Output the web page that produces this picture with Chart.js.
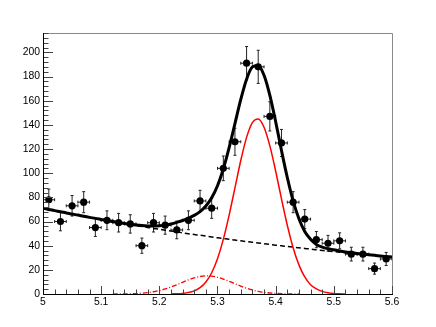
<!DOCTYPE html>
<html>
<head>
<meta charset="utf-8">
<script src="https://cdn.jsdelivr.net/npm/chart.js@4/dist/chart.umd.min.js"></script>
<style>
html,body{margin:0;padding:0;background:#fff;}
canvas{display:block;}
</style>
</head>
<body>
<canvas id="c" width="436" height="327"></canvas>
<script>
// ---- data ----
const binCenters = [5.01,5.03,5.05,5.07,5.09,5.11,5.13,5.15,5.17,5.19,5.21,5.23,5.25,5.27,5.29,5.31,5.33,5.35,5.37,5.39,5.41,5.43,5.45,5.47,5.49,5.51,5.53,5.55,5.57,5.59];
const counts = [78,60,73,76,55,61,59,58,40,59,57,53,61,77,71,104,126,191,188,147,125,76,62,45,42,44,33,33,21,29];
const countErrors = [8.8,7.7,8.5,8.7,7.4,7.8,7.7,7.6,6.3,7.7,7.5,7.3,7.8,8.8,8.4,10.2,11.2,13.8,13.7,12.1,11.2,8.7,7.9,6.7,6.5,6.6,5.7,5.7,4.6,5.4];
const binHalfWidth = 0.01;

const fitX = [5.00,5.01,5.02,5.03,5.04,5.05,5.06,5.07,5.08,5.09,
              5.10,5.11,5.12,5.13,5.14,5.15,5.16,5.17,5.18,5.19,
              5.20,5.21,5.22,5.23,5.24,5.25,5.26,5.27,5.28,5.29,
              5.30,5.31,5.32,5.33,5.34,5.35,5.36,5.37,5.38,5.39,
              5.40,5.41,5.42,5.43,5.44,5.45,5.46,5.47,5.48,5.49,
              5.50,5.51,5.52,5.53,5.54,5.55,5.56,5.57,5.58,5.59,5.60];
const totalFit = [71.0,70.0,69.0,68.1,67.1,66.2,65.3,64.3,63.4,62.6,
                  61.7,60.8,60.0,59.2,58.4,57.7,57.1,56.6,56.3,56.2,
                  56.4,57.0,58.0,59.3,60.8,62.8,65.1,68.2,72.8,79.6,
                  89.6,103.5,121.1,141.0,161.0,177.8,187.9,189.2,181.0,164.4,
                  142.6,118.8,96.4,77.1,62.3,51.8,45.3,41.0,38.8,37.5,
                  36.6,35.6,34.8,34.2,33.6,33.0,32.5,32.0,31.5,31.0,30.6];
const backgroundFit = [71.0,70.0,69.0,68.1,67.1,66.2,65.3,64.3,63.4,62.6,
                       61.7,60.8,60.0,59.1,58.3,57.5,56.7,55.9,55.1,54.3,
                       53.6,52.8,52.1,51.4,50.6,49.9,49.2,48.6,47.9,47.2,
                       46.5,45.9,45.3,44.6,44.0,43.4,42.8,42.2,41.6,41.0,
                       40.4,39.9,39.3,38.8,38.2,37.7,37.2,36.6,36.1,35.6,
                       35.1,34.6,34.2,33.7,33.2,32.7,32.3,31.8,31.4,30.9,30.5];
const signalFit = [null,null,null,null,null,null,null,null,null,null,
                   null,null,null,null,null,null,null,null,null,null,
                   null,null,0.07,0.2,0.5,1.2,2.6,5.2,9.9,17.6,
                   29.2,45.2,65.3,87.9,110.5,129.6,141.8,144.8,138.0,122.6,
                   101.7,78.7,56.9,38.3,24.1,14.1,7.7,4.2,2.2,1.0,
                   0.4,0.15,0.05,null,null,null,null,null,null,null,null];
const secondPeakFit = [null,null,null,null,null,null,null,null,null,null,
                       null,null,0.02,0.05,0.10,0.20,0.38,0.68,1.15,1.86,
                       2.85,4.17,5.81,7.69,9.70,11.65,13.31,14.48,14.99,14.76,
                       13.85,12.36,10.50,8.49,6.54,4.79,3.34,2.22,1.40,0.84,
                       0.48,0.26,0.14,0.07,0.03,null,null,null,null,null,
                       null,null,null,null,null,null,null,null,null,null,null];
const xTickStep = 0.1, xMinorStep = 0.02;
const yTickStep = 20, yMinorStep = 4;
const xMin = 5.0, xMax = 5.6, yMin = 0, yMax = 216;

const pts = (xs, ys) => xs.map((x, i) => ({x: x, y: ys[i]}));

const FONT = "'Liberation Sans', Arial, Helvetica, sans-serif";

const rootAxes = {
  id: 'rootAxes',
  beforeDatasetsDraw(chart) {
    const ctx = chart.ctx, xs = chart.scales.x, ys = chart.scales.y;
    const a = chart.chartArea;
    ctx.save();
    ctx.beginPath();
    ctx.rect(a.left, a.top, a.right - a.left, a.bottom - a.top);
    ctx.clip();
    ctx.strokeStyle = '#222';
    ctx.lineWidth = 1;
    ctx.beginPath();
    binCenters.forEach((c, i) => {
      const px = xs.getPixelForValue(c);
      const py = ys.getPixelForValue(counts[i]);
      const x1 = xs.getPixelForValue(c - binHalfWidth);
      const x2 = xs.getPixelForValue(c + binHalfWidth);
      const y1 = ys.getPixelForValue(counts[i] + countErrors[i]);
      const y2 = ys.getPixelForValue(counts[i] - countErrors[i]);
      // horizontal bar
      ctx.moveTo(x1, py); ctx.lineTo(x2, py);
      ctx.moveTo(x1, py - 1.5); ctx.lineTo(x1, py + 1.5);
      ctx.moveTo(x2, py - 1.5); ctx.lineTo(x2, py + 1.5);
      // vertical bar
      ctx.moveTo(px, y1); ctx.lineTo(px, y2);
      ctx.moveTo(px - 1.5, y1); ctx.lineTo(px + 1.5, y1);
      ctx.moveTo(px - 1.5, y2); ctx.lineTo(px + 1.5, y2);
    });
    ctx.stroke();
    ctx.restore();
  },
  afterDraw(chart) {
    const ctx = chart.ctx, xs = chart.scales.x, ys = chart.scales.y;
    const a = chart.chartArea;
    ctx.save();
    // frame top/right
    ctx.strokeStyle = '#8a8a8a';
    ctx.lineWidth = 1;
    ctx.beginPath();
    ctx.moveTo(a.left, Math.round(a.top) + 0.5);
    ctx.lineTo(Math.round(a.right) + 0.5, Math.round(a.top) + 0.5);
    ctx.lineTo(Math.round(a.right) + 0.5, a.bottom);
    ctx.stroke();
    // ticks
    ctx.strokeStyle = '#444';
    ctx.beginPath();
    for (let v = xMin; v <= xMax + 1e-9; v += xMinorStep) {
      const r = Math.round(v / xMinorStep);
      const major = (r % 5) === 0;
      const px = Math.round(xs.getPixelForValue(v)) + 0.5;
      ctx.moveTo(px, a.bottom);
      ctx.lineTo(px, a.bottom - (major ? 8 : 4.5));
    }
    for (let v = yMin; v <= yMax + 1e-9; v += yMinorStep) {
      const r = Math.round(v / yMinorStep);
      const major = (r % 5) === 0;
      const py = Math.round(ys.getPixelForValue(v)) + 0.5;
      ctx.moveTo(a.left, py);
      ctx.lineTo(a.left + (major ? 10 : 5.5), py);
    }
    ctx.stroke();
    // axes
    ctx.strokeStyle = '#000';
    ctx.beginPath();
    ctx.moveTo(Math.round(a.left) + 0.5, a.top);
    ctx.lineTo(Math.round(a.left) + 0.5, Math.round(a.bottom) + 0.5);
    ctx.lineTo(a.right + 1, Math.round(a.bottom) + 0.5);
    ctx.stroke();
    ctx.restore();
  }
};

new Chart(document.getElementById('c'), {
  type: 'scatter',
  data: {
    datasets: [
      { label: 'total', data: pts(fitX, totalFit), showLine: true, borderColor: '#000', borderWidth: 3,
        pointRadius: 0, cubicInterpolationMode: 'monotone', spanGaps: false },
      { label: 'signal', data: pts(fitX, signalFit), showLine: true, borderColor: '#ff0000', borderWidth: 1.5,
        pointRadius: 0, cubicInterpolationMode: 'monotone', spanGaps: false },
      { label: 'second', data: pts(fitX, secondPeakFit), showLine: true, borderColor: '#ff0000', borderWidth: 1.3,
        borderDash: [5, 2, 1, 2], pointRadius: 0, cubicInterpolationMode: 'monotone', spanGaps: false },
      { label: 'background', data: pts(fitX, backgroundFit), showLine: true, borderColor: '#000', borderWidth: 1.5,
        borderDash: [5, 3], pointRadius: 0, cubicInterpolationMode: 'monotone' },
      { label: 'data', data: pts(binCenters, counts), showLine: false, pointRadius: 3.6,
        pointBackgroundColor: '#000', pointBorderColor: '#000', pointBorderWidth: 0 }
    ]
  },
  options: {
    responsive: false,
    devicePixelRatio: 1,
    animation: false,
    events: [],
    layout: { padding: { left: 0, right: 44, top: 33, bottom: 0 } },
    plugins: { legend: { display: false }, tooltip: { enabled: false } },
    scales: {
      x: {
        type: 'linear', min: xMin, max: xMax,
        grid: { display: false, drawTicks: false },
        border: { display: false },
        afterFit: (s) => { s.height = 33; },
        ticks: {
          stepSize: xTickStep, includeBounds: false, padding: 2, color: '#000',
          font: { family: FONT, size: 10.4 }, maxRotation: 0, autoSkip: false,
          callback: (v) => String(Number(Number(v).toFixed(2)))
        }
      },
      y: {
        type: 'linear', min: yMin, max: yMax,
        grid: { display: false, drawTicks: false },
        border: { display: false },
        afterFit: (s) => { s.width = 43; },
        ticks: {
          stepSize: yTickStep, includeBounds: false, padding: 3, color: '#000',
          font: { family: FONT, size: 10.4 },
          callback: (v) => String(v)
        }
      }
    }
  },
  plugins: [rootAxes]
});
</script>
</body>
</html>
